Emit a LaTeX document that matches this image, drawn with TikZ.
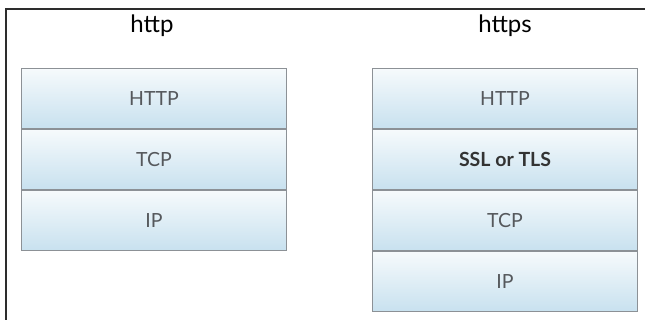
\documentclass[tikz,border=0pt]{standalone}
\usepackage{fontspec}
\setmainfont{Lato}
\usepackage{xcolor}
\usepackage{tikz}
\usetikzlibrary{positioning, backgrounds}
\definecolor{layerblue}{RGB}{200,225,239}
\definecolor{layertop}{RGB}{246,250,252}
\definecolor{layerline}{RGB}{140,145,150}
\definecolor{layertext}{RGB}{85,88,92}
\definecolor{framegray}{RGB}{45,45,45}

\begin{document}
\begin{tikzpicture}[
        x=1pt, y=-1pt,
        node distance=0pt,
        layer/.style={rectangle, draw=layerline, line width=1pt, top color=layertop, bottom color=layerblue, minimum width=265pt, minimum height=60pt, inner sep=0pt, font=\fontsize{19.5}{22}\selectfont, text=layertext},
        stacktitle/.style={font=\fontsize{24}{26}\selectfont, text=black, inner sep=0pt}
    ]
        \useasboundingbox (0,0) rectangle (645,320);
        \fill[white] (0,0) rectangle (645,320);

        % frame
        \draw[framegray, line width=2pt] (6,320) -- (6,9.5) -- (645,9.5);

        \node[stacktitle] (httpTitle)  at (152,26) {http};
        \node[stacktitle] (httpsTitle) at (505,26) {https};

        % http stack
        \node[layer, anchor=north west] (leftHttp) at (21,68) {HTTP};
        \node[layer, below=of leftHttp] (leftTcp) {TCP};
        \node[layer, below=of leftTcp]  (leftIp)  {IP};

        % https stack
        \node[layer, anchor=north west] (rightHttp) at (372,68) {HTTP};
        \node[layer, below=of rightHttp, font=\fontsize{19.5}{22}\selectfont\bfseries, text=black!80] (rightSsl) {SSL or TLS};
        \node[layer, below=of rightSsl] (rightTcp) {TCP};
        \node[layer, below=of rightTcp] (rightIp)  {IP};
    \end{tikzpicture}
\end{document}
